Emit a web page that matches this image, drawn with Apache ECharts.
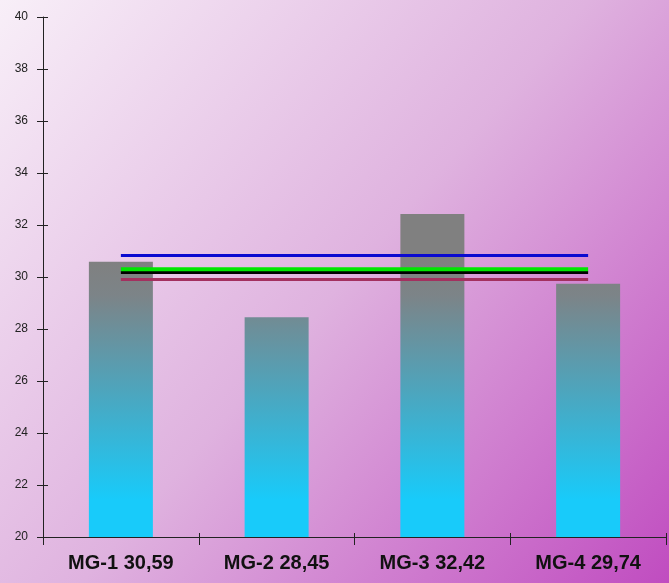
<!DOCTYPE html>
<html>
<head>
<meta charset="utf-8">
<script src="https://cdn.jsdelivr.net/npm/echarts@6/dist/echarts.min.js"></script>
<style>
html,body{margin:0;padding:0;}
#chart{width:669px;height:583px;}
</style>
</head>
<body>
<div id="chart"></div>
<script>
const categories = ['MG-1 30,59', 'MG-2 28,45', 'MG-3 32,42', 'MG-4 29,74'];
const barValues = [30.59, 28.45, 32.42, 29.74];
const blueLine = [30.83, 30.83, 30.83, 30.83];
const greenLine = [30.30, 30.30, 30.30, 30.30];
const blackLine = [30.17, 30.17, 30.17, 30.17];
const redLine = [29.90, 29.90, 29.90, 29.90];
const yMin = 20, yMax = 40, yStep = 2;

const chart = echarts.init(document.getElementById('chart'));
const grid = {left: 43, right: 3, top: 17, bottom: 46};

function lineSeries(data, color, width, z) {
  return {type: 'line', data: data, symbol: 'none', z: z,
    lineStyle: {color: color, width: width}, silent: true};
}

chart.setOption({
  backgroundColor: new echarts.graphic.LinearGradient(0, 0, 1, 1, [
    {offset: 0, color: '#f8eff8'},
    {offset: 0.5, color: '#dfb2df'},
    {offset: 1, color: '#c04cc0'}
  ]),
  animation: false,
  grid: grid,
  xAxis: [{
    type: 'category', data: categories, boundaryGap: true,
    axisLine: {lineStyle: {color: '#222', width: 1}},
    axisTick: {show: true, length: 8, lineStyle: {color: '#222'}},
    axisLabel: {color: '#111', fontFamily: 'Liberation Sans Narrow, Arial Narrow, sans-serif',
      fontWeight: 'bold', fontSize: 20, margin: 16},
    splitLine: {show: false}
  }, {
    type: 'category', data: categories, boundaryGap: true, position: 'bottom', offset: 0,
    axisLine: {show: false},
    axisTick: {show: true, inside: true, length: 4, lineStyle: {color: '#222'}},
    axisLabel: {show: false},
    splitLine: {show: false}
  }],
  yAxis: [{
    type: 'value', min: yMin, max: yMax, interval: yStep,
    axisLine: {show: true, lineStyle: {color: '#222', width: 1}},
    axisTick: {show: true, length: 6, lineStyle: {color: '#222'}},
    axisLabel: {color: '#222', fontFamily: 'Liberation Sans, Arial, sans-serif', fontSize: 12, margin: 15},
    splitLine: {show: false}
  }, {
    type: 'value', min: yMin, max: yMax, interval: yStep, position: 'left', offset: 0,
    axisLine: {show: false},
    axisTick: {show: true, inside: true, length: 5, lineStyle: {color: '#222'}},
    axisLabel: {show: false},
    splitLine: {show: false}
  }],
  series: [
    {
      type: 'bar', data: barValues, barWidth: 64, z: 2,
      itemStyle: {
        color: new echarts.graphic.LinearGradient(0, 260, 0, 500, [
          {offset: 0, color: '#808080'},
          {offset: 0.15, color: '#7c8488'},
          {offset: 1, color: '#18cbfa'}
        ], true)
      }
    },
    lineSeries(redLine, '#a3305f', 3, 3),
    lineSeries(blackLine, '#000000', 3, 4),
    lineSeries(greenLine, '#00e600', 4, 5),
    lineSeries(blueLine, '#0a0ad0', 3, 6)
  ]
});
</script>
</body>
</html>
